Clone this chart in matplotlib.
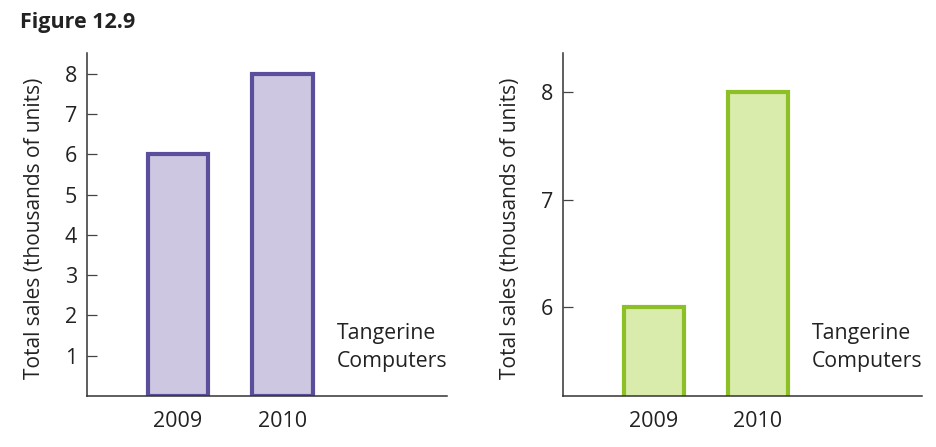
import matplotlib.pyplot as plt

plt.rcParams['font.family'] = ['Open Sans', 'DejaVu Sans']

years = ['2009', '2010']
sales = [6, 8]
left_ticks = [1, 2, 3, 4, 5, 6, 7, 8]
right_ticks = [6, 7, 8]
company = 'Tangerine\nComputers'
ylabel = 'Total sales (thousands of units)'

fig = plt.figure(figsize=(9.37, 4.47), dpi=100)

ax1 = fig.add_axes([0.0928, 0.1141, 0.3842, 0.7673])
ax2 = fig.add_axes([0.6009, 0.1141, 0.3831, 0.7673])

panels = [
    (ax1, '#5b4f9c', '#cdc7e1', (0, 8.52), left_ticks),
    (ax2, '#8cc026', '#d9ecab', (5.175, 8.366), right_ticks),
]

for ax, edge, fill, ylim, ticks in panels:
    ax.bar(range(len(years)), sales, width=0.575, color=fill,
           edgecolor=edge, linewidth=3.0, zorder=2)
    ax.set_xlim(-0.871, 2.574)
    ax.set_ylim(*ylim)
    ax.set_yticks(ticks)
    ax.set_xticks(range(len(years)))
    ax.set_xticklabels(years, fontsize=15.5, color='#222222')
    ax.tick_params(axis='x', length=0, pad=11)
    ax.tick_params(axis='y', direction='in', length=7, width=0.9,
                   color='#444444', labelsize=15.5, labelcolor='#222222', pad=7)
    for s in ['top', 'right']:
        ax.spines[s].set_visible(False)
    for s in ['left', 'bottom']:
        ax.spines[s].set_color('#333333')
        ax.spines[s].set_linewidth(1.1)
        ax.spines[s].set_zorder(3)
    ax.set_ylabel(ylabel, fontsize=15, color='#222222')
    ax.yaxis.set_label_coords(-0.116, 0.49)
    ax.text(0.693, 0.142, company, transform=ax.transAxes, fontsize=15.3,
            color='#222222', ha='left', va='center', linespacing=1.45)

fig.text(0.021, 0.949, 'Figure 12.9', fontsize=15.5, fontweight='bold',
         color='#222222', ha='left', va='center')

fig.savefig('out.png', dpi=100)
